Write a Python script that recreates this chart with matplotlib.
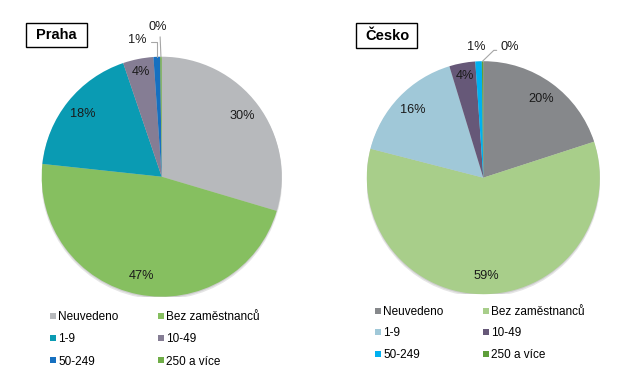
import matplotlib
matplotlib.use('Agg')
import matplotlib.pyplot as plt
from matplotlib.patches import Rectangle, Circle
from matplotlib.lines import Line2D
import numpy as np

plt.rcParams['font.family'] = ['Liberation Sans', 'DejaVu Sans']

# data
categories = ['Neuvedeno', 'Bez zaměstnanců', '1-9', '10-49', '50-249', '250 a více']
praha_values = [29.6, 47.1, 18.1, 4.1, 0.9, 0.2]
cesko_values = [20.0, 59.0, 16.3, 3.6, 0.9, 0.2]
praha_colors = ['#B7B9BC', '#86BF60', '#0A9BB3', '#857D94', '#1670C0', '#70AD47']
cesko_colors = ['#86888B', '#A8CE8A', '#A0C8D8', '#665878', '#00B0F0', '#5E9E3A']

W, H = 631, 377
fig = plt.figure(figsize=(W / 100, H / 100), dpi=100)
PCT_SIZE = 9.2


def px_axes(cx, cy, r):
    return fig.add_axes([(cx - r) / W, (H - cy - r) / H, 2 * r / W, 2 * r / H])


def px_text(x, y, s, **kw):
    fig.text(x / W, 1 - y / H, s, **kw)


def draw_pie(ax, values, colors, small_labels):
    # soft shadow under the pie
    ax.add_patch(Circle((0, -0.018), 1.005, color='#000000', alpha=0.10, lw=0, zorder=0))
    ax.add_patch(Circle((0, -0.01), 1.0, color='#000000', alpha=0.10, lw=0, zorder=0))
    wedges, _ = ax.pie(values, colors=colors, startangle=90, counterclock=False,
                       wedgeprops=dict(linewidth=0))
    ax.set_xlim(-1, 1)
    ax.set_ylim(-1, 1)
    ax.set_aspect('equal')
    ax.axis('off')
    for i, (w, v) in enumerate(zip(wedges, values)):
        mid = np.deg2rad((w.theta1 + w.theta2) / 2)
        lab = '%d%%' % int(round(v))
        if i in small_labels:
            tx, ty, style, rel = small_labels[i]
            edge = (np.cos(mid), np.sin(mid))
            if style is None:
                ax.text(tx, ty, lab, ha='center', va='center', fontsize=PCT_SIZE,
                        color='#1a1a1a')
            else:
                ax.annotate(lab, xy=edge, xytext=(tx, ty), ha='center', va='center',
                            fontsize=PCT_SIZE, color='#1a1a1a', annotation_clip=False,
                            arrowprops=dict(arrowstyle='-', color='#A6A6A6', lw=0.8,
                                            connectionstyle=style, relpos=rel,
                                            shrinkB=0, shrinkA=1))
        else:
            d = 0.89 if v < 6 else 0.84
            ax.text(d * np.cos(mid), d * np.sin(mid), lab, ha='center', va='center',
                    fontsize=PCT_SIZE, color='#1a1a1a')


ax1 = px_axes(161.7, 176.7, 120)
draw_pie(ax1, praha_values, praha_colors,
         {4: (-0.20, 1.14, 'angle,angleA=0,angleB=90,rad=0', (1, 0.3)),
          5: (-0.03, 1.25, 'arc3', (0.6, 0))})

ax2 = px_axes(483.3, 177.7, 116.5)
draw_pie(ax2, cesko_values, cesko_colors,
         {4: (-0.058, 1.124, None, None),
          5: (0.23, 1.124, 'angle,angleA=0,angleB=44,rad=0', (0, 0.2))})

# title boxes
for (x0, y0, x1, y1, tx, name) in [(25.7, 22.7, 86.7, 47.3, 56.2, 'Praha'),
                                   (356, 23.3, 416.7, 48.3, 388, 'Česko')]:
    fig.add_artist(Rectangle((x0 / W, 1 - y1 / H), (x1 - x0) / W, (y1 - y0) / H,
                             transform=fig.transFigure, fc='white', ec='black', lw=1))
    px_text(tx, (y0 + y1) / 2, name, ha='center', va='center', fontsize=10.5,
            fontweight='bold')

# legends
order = [0, 2, 4, 1, 3, 5]
for colors, anchor, spacing in [(praha_colors, (50, 311), 0.87),
                                (cesko_colors, (375, 306), 0.79)]:
    handles = [Line2D([], [], marker='s', ls='none', markersize=4.5,
                      markerfacecolor=colors[i], markeredgewidth=0) for i in order]
    labels = [categories[i] for i in order]
    fig.legend(handles, labels, ncol=2, loc='upper left',
               bbox_to_anchor=(anchor[0] / W, 1 - anchor[1] / H),
               frameon=False, fontsize=8.5, handlelength=0.5, handletextpad=0.2,
               columnspacing=3.3, labelspacing=spacing, borderpad=0, borderaxespad=0)

fig.savefig('out.png', dpi=100)
